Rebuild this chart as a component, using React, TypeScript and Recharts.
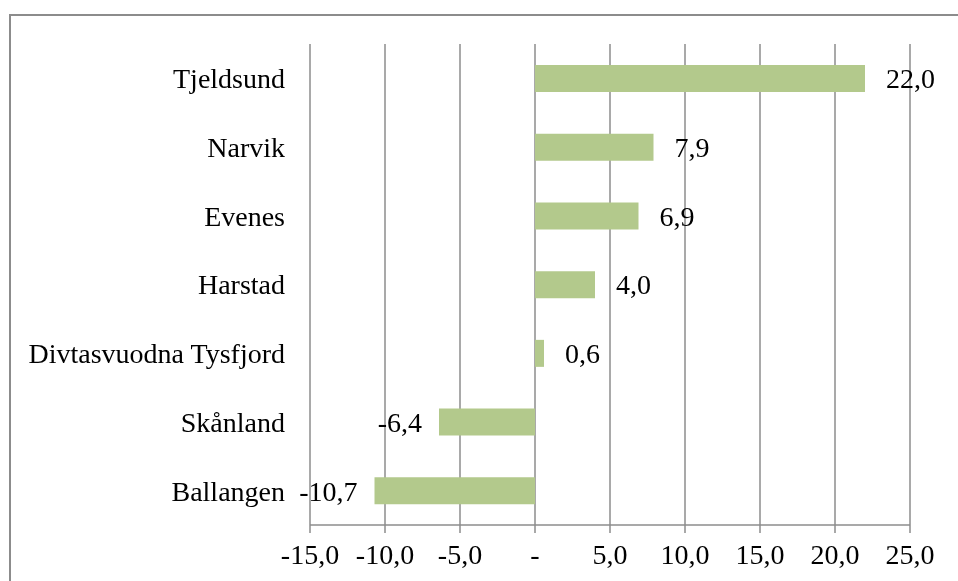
import React from 'react';
import { BarChart, Bar, XAxis, YAxis, CartesianGrid, LabelList } from 'recharts';

const kommuner = ['Tjeldsund', 'Narvik', 'Evenes', 'Harstad', 'Divtasvuodna Tysfjord', 'Skånland', 'Ballangen'];
const endring = [22.0, 7.9, 6.9, 4.0, 0.6, -6.4, -10.7];
const xTicks = [-15, -10, -5, 0, 5, 10, 15, 20, 25];

const data = kommuner.map((navn, i) => ({ navn, verdi: endring[i] }));

const GRID = '#8c8c8c';
const FONT = '"Liberation Serif", serif';
const FS = 28;

const fmt = (v: number) => (v === 0 ? '-' : v.toFixed(1).replace('.', ','));

const ValueLabel = (props: any) => {
  const { x, y, width, height, value } = props;
  const left = Math.min(x, x + width);
  const right = Math.max(x, x + width);
  const cy = y + height / 2;
  if (value >= 0) {
    return (
      <text x={right + 21} y={cy} dy="0.35em" textAnchor="start" fontSize={FS} fontFamily={FONT} fill="#000">
        {fmt(value)}
      </text>
    );
  }
  return (
    <text x={left - 17} y={cy} dy="0.35em" textAnchor="end" fontSize={FS} fontFamily={FONT} fill="#000">
      {fmt(value)}
    </text>
  );
};

export default function App() {
  return (
    <div style={{ position: 'relative', width: 950, height: 573 }}>
      {/* frame of the embedded chart, cut off at the window edge */}
      <div
        style={{
          position: 'fixed',
          left: 9,
          top: 14,
          right: -20,
          bottom: -20,
          borderTop: `2px solid ${GRID}`,
          borderLeft: `2px solid ${GRID}`,
        }}
      />
      <div style={{ position: 'absolute', left: 0, top: 0 }}>
        <BarChart
          width={950}
          height={573}
          data={data}
          layout="vertical"
          margin={{ top: 36, right: 48, bottom: 8, left: 0 }}
          barSize={27}
        >
          <CartesianGrid horizontal={false} vertical stroke={GRID} strokeWidth={1.5} />
          <XAxis
            type="number"
            domain={[-15, 25]}
            ticks={xTicks}
            tickFormatter={fmt}
            interval={0}
            axisLine={{ stroke: GRID, strokeWidth: 1.5 }}
            tickLine={{ stroke: GRID, strokeWidth: 1.5 }}
            tickSize={8}
            tickMargin={11}
            height={48}
            tick={{ fontSize: FS, fontFamily: FONT, fill: '#000' }}
          />
          <YAxis
            type="category"
            dataKey="navn"
            width={302}
            axisLine={false}
            tickLine={false}
            tickSize={0}
            tickMargin={25}
            interval={0}
            tick={{ fontSize: FS, fontFamily: FONT, fill: '#000' }}
          />
          <Bar dataKey="verdi" fill="#b3c98c" isAnimationActive={false}>
            <LabelList dataKey="verdi" content={ValueLabel} />
          </Bar>
        </BarChart>
      </div>
    </div>
  );
}
